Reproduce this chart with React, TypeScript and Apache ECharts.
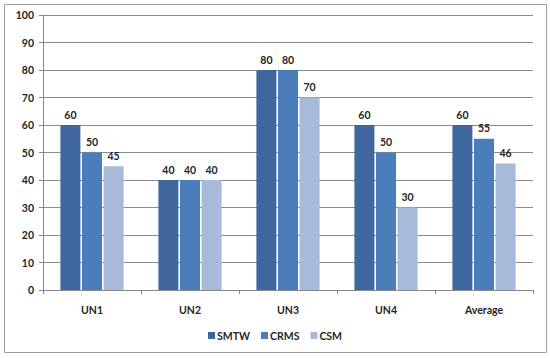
import React, { useEffect, useRef } from "react";
import * as echarts from "echarts";

const categories = ["UN1", "UN2", "UN3", "UN4", "Average"];
const smtw = [60, 40, 80, 60, 60];
const crms = [50, 40, 80, 50, 55];
const csm = [45, 40, 70, 30, 46];
const seriesNames = ["SMTW", "CRMS", "CSM"];
const colors = ["#3F679E", "#4A7EBB", "#A8BAD9"];

export default function App() {
  const ref = useRef<HTMLDivElement>(null);
  useEffect(() => {
    if (!ref.current) return;
    const chart = echarts.init(ref.current, null, { renderer: "svg" });
    const font = "Lato, 'Open Sans', sans-serif";
    const label = {
      show: true,
      position: "top" as const,
      distance: 5,
      color: "#262626",
      fontFamily: font,
      fontWeight: "bold" as const,
      fontSize: 10.5,
    };
    const mk = (name: string, data: number[], color: string) => ({
      name,
      type: "bar" as const,
      data,
      barWidth: 20,
      barGap: "8%",
      itemStyle: { color },
      label,
    });
    chart.setOption({
      animation: false,
      backgroundColor: "#fff",
      graphic: [
        {
          type: "rect",
          shape: { x: 4.5, y: 4.5, width: 542, height: 348 },
          style: { fill: "none", stroke: "#a0a0a0", lineWidth: 1 },
          silent: true,
        },
      ],
      grid: { left: 43, right: 17, top: 15, bottom: 68, containLabel: false },
      legend: {
        data: seriesNames,
        bottom: 12,
        left: "center",
        itemWidth: 7,
        itemHeight: 7,
        itemGap: 11,
        icon: "rect",
        textStyle: { fontFamily: font, fontWeight: "bold", fontSize: 10.5, color: "#262626", padding: [0, 0, 0, -3] },
      },
      xAxis: {
        type: "category",
        data: categories,
        axisLine: { lineStyle: { color: "#888" } },
        axisTick: { show: true, length: 4, lineStyle: { color: "#888" } },
        axisLabel: { fontFamily: font, fontWeight: "bold", fontSize: 10.5, color: "#262626", margin: 14 },
      },
      yAxis: {
        type: "value",
        min: 0,
        max: 100,
        interval: 10,
        axisLine: { show: true, lineStyle: { color: "#888" } },
        axisTick: { show: true, length: 4, lineStyle: { color: "#888" } },
        splitLine: { lineStyle: { color: "#8a8a8a" } },
        axisLabel: { fontFamily: font, fontWeight: "bold", fontSize: 10.5, color: "#262626", margin: 9 },
      },
      series: [mk(seriesNames[0], smtw, colors[0]), mk(seriesNames[1], crms, colors[1]), mk(seriesNames[2], csm, colors[2])],
    });
    return () => chart.dispose();
  }, []);
  return <div ref={ref} style={{ width: 550, height: 358, position: "absolute", left: 0, top: 0 }} />;
}
